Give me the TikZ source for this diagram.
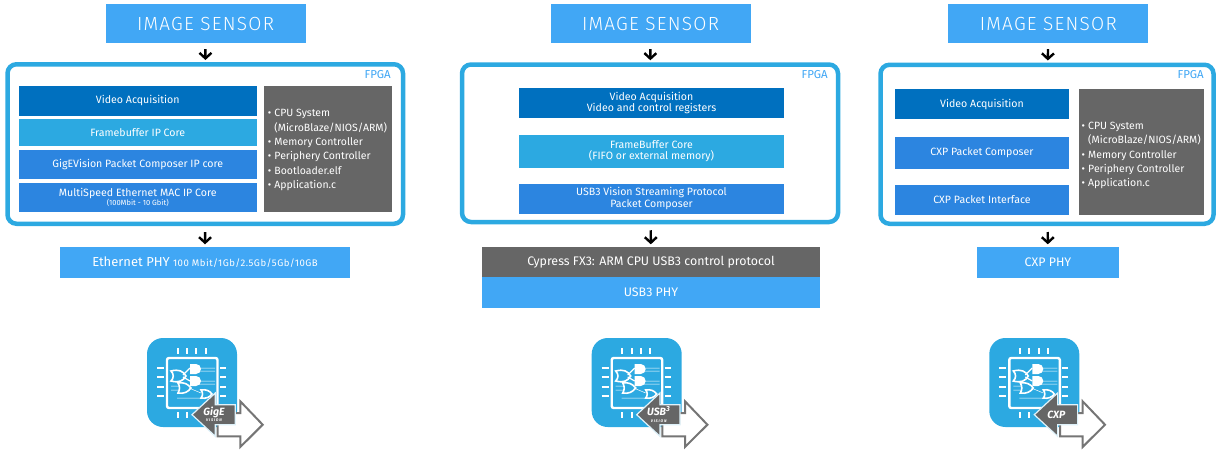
\documentclass[tikz,border=0pt]{standalone}
\usepackage{fontspec}
\setmainfont{Fira Sans}
\newfontfamily\sensorfont[LetterSpace=6.5]{Fira Sans Light}
\usetikzlibrary{arrows.meta}
\definecolor{skyblue}{HTML}{41A7F5}
\definecolor{frameblue}{HTML}{2CA9E1}
\definecolor{deepblue}{HTML}{0070BF}
\definecolor{midblue}{HTML}{2C85E0}
\definecolor{slate}{HTML}{666666}
\tikzstyle{std} = [rectangle, inner sep=0pt, text=white, align=center, font=\fontsize{10.6}{11.5}\selectfont]
\tikzstyle{sensor} = [std, fill=skyblue, minimum width=200pt, minimum height=39pt, font=\sensorfont\fontsize{19}{20}\selectfont]
\tikzstyle{phy} = [std, fill=skyblue, minimum height=31pt, font=\fontsize{12.4}{14}\selectfont]
\tikzstyle{fpga} = [rectangle, draw=frameblue, line width=4.5pt, fill=white, rounded corners=9pt, inner sep=0pt]
\tikzstyle{tag} = [inner sep=0pt, text=skyblue, anchor=east, font=\fontsize{11.5}{12}\selectfont]
\tikzstyle{video} = [std, fill=deepblue]
\tikzstyle{buffer} = [std, fill=frameblue]
\tikzstyle{packet} = [std, fill=midblue]
\tikzstyle{cpu} = [std, fill=slate, align=left, font=\fontsize{10.5}{14.4}\selectfont]
\tikzstyle{arrow} = [-{Straight Barb[length=5.5pt,width=12pt]}, line width=2.4pt, black, shorten <=6pt, shorten >=2pt]
\newcommand{\bul}{\makebox[6.5pt][l]{•}}
\tikzset{
  pics/chipicon/.style={code={
    \fill[frameblue] (0,0) [rounded corners=16pt] rectangle (90,89);
    \draw[white, line width=2.4pt, rounded corners=2pt] (20,20) rectangle (70.5,70);
    \foreach \p in {30.7,40,49.3,58.7} {
      \draw[white, line width=2pt] (\p,10) -- (\p,16);
      \draw[white, line width=2pt] (\p,74) -- (\p,80);
    }
    \foreach \p in {30,39,49,58} {
      \draw[white, line width=2pt] (10,\p) -- (17,\p);
      \draw[white, line width=2pt] (73,\p) -- (79,\p);
    }
    % gates
    \draw[white, line width=.5pt] (52,30) -- (68,30) (52,33) -- (68,33) (52,43) -- (68,43) (52,46) -- (68,46) (24,48) -- (32,48) (24,52) -- (32,52) (42,50) -- (54,55) (30,60) -- (54,60);
    \draw[white, line width=1.2pt] (36,37) -- (43,30) (36,39) -- (43,43);
    \draw[white, line width=1.6pt] (24,33) .. controls (32,31) and (36,33) .. (39,38) .. controls (36,43) and (32,45) .. (24,43) .. controls (27,40) and (27,36) .. (24,33) -- cycle;
    \fill[white] (43,26) -- (49,26) arc (-90:90:5) -- (43,36) -- cycle;
    \fill[white] (43,38) -- (49,38) arc (-90:90:5) -- (43,48) -- cycle;
    \draw[white, line width=1.6pt] (31,45) .. controls (37,44) and (41,46) .. (44,50) .. controls (41,54) and (37,56) .. (31,55) .. controls (33,52) and (33,48) .. (31,45) -- cycle;
    \draw[white, line width=1.6pt] (54,52) .. controls (59,51) and (63,53) .. (65,56) .. controls (63,59) and (59,61) .. (54,60) .. controls (56,58) and (56,54) .. (54,52) -- cycle;
    % arrows
    \draw[slate!90, fill=white, line width=2pt, miter limit=10] (70.7,75) -- (93.3,75) -- (93.3,63.3) -- (115.7,86.7) -- (93.3,109) -- (93.3,98.3) -- (70.7,98.3) -- cycle;
    \draw[white!85!frameblue, fill=slate, line width=1.2pt] (45,76.7) -- (68.3,55) -- (68.3,66.7) -- (88.3,66.7) -- (88.3,86.7) -- (68.3,86.7) -- (68.3,98.3) -- cycle;
    \node (logo) [inner sep=0pt, text=white, align=center, font=\bfseries\itshape\fontsize{10.5}{7}\selectfont] at (67,76.5) {#1};
  }}
}
\newcommand{\vis}{\\[-.5pt]{\fontsize{3.8}{3.8}\selectfont V I S I O N}}

\begin{document}
\begin{tikzpicture}[x=1pt, y=-1pt]
    \useasboundingbox (0,0) rectangle (1216,450);

    % GigE
    \node (sensorA) [sensor] at (205.5,23.5) {IMAGE SENSOR};
    \node (fpgaA)   [fpga, minimum width=395.5pt, minimum height=159.5pt] at (205.25,144) {};
    \node (tagA)    [tag] at (391,75) {FPGA};
    \node (videoA)  [video, minimum width=238.5pt, minimum height=30.5pt] at (137.75,100.75) {Video Acquisition};
    \node (bufferA) [buffer, minimum width=238.5pt, minimum height=27.5pt] at (137.75,132.25) {Framebuffer IP Core};
    \node (composeA) [packet, minimum width=238.5pt, minimum height=29pt] at (137.75,164.5) {GigEVision Packet Composer IP core};
    \node (macA)    [packet, minimum width=238.5pt, minimum height=29.5pt] at (137.75,197.25)
      {MultiSpeed Ethernet MAC IP Core\\[-2.5pt]{\fontsize{7.5}{8}\selectfont (100Mbit - 10 Gbit)}};
    \node (cpuA)    [cpu, minimum width=128pt, minimum height=126.5pt] at (327.5,148.75)
      {\rule{0pt}{10pt}\bul CPU System\\\hspace*{6.5pt}(MicroBlaze/NIOS/ARM)\\\bul Memory Controller\\\bul Periphery Controller\\\bul Bootloader.elf\\\bul Application.c};
    \node (phyA)    [phy, minimum width=290pt] at (205,262)
      {{\fontsize{13}{14}\selectfont Ethernet PHY} {\fontsize{9.6}{10}\selectfont\addfontfeature{LetterSpace=5} 100 Mbit/1Gb/2.5Gb/5Gb/10GB}};

    % USB3
    \node (sensorB) [sensor] at (650.5,23.5) {IMAGE SENSOR};
    \node (fpgaB)   [fpga, minimum width=376pt, minimum height=157.5pt] at (650,143.25) {};
    \node (tagB)    [tag] at (828,75) {FPGA};
    \node (videoB)  [video, minimum width=265pt, minimum height=30pt] at (651.5,103) {Video Acquisition\\Video and control registers};
    \node (bufferB) [buffer, minimum width=265pt, minimum height=32.5pt] at (651.5,151.25) {FrameBuffer Core\\(FIFO or external memory)};
    \node (composeB) [packet, minimum width=265pt, minimum height=30pt] at (651.5,198.5) {USB3 Vision Streaming Protocol\\Packet Composer};
    \node (fxB)     [phy, fill=slate, minimum width=338pt] at (651,262) {Cypress FX3: ARM CPU USB3 control protocol};
    \node (phyB)    [phy, minimum width=338pt] at (651,292.5) {USB3 PHY};

    % CXP
    \node (sensorC) [sensor] at (1048.25,23.5) {IMAGE SENSOR};
    \node (fpgaC)   [fpga, minimum width=333pt, minimum height=159pt] at (1047,144.25) {};
    \node (tagC)    [tag] at (1204,75) {FPGA};
    \node (videoC)  [video, minimum width=174pt, minimum height=30pt] at (982,104) {Video Acquisition};
    \node (composeC) [packet, minimum width=174pt, minimum height=32.5pt] at (982,152.75) {CXP Packet Composer};
    \node (ifaceC)  [packet, minimum width=174pt, minimum height=30pt] at (982,199.5) {CXP Packet Interface};
    \node (cpuC)    [cpu, minimum width=125.5pt, minimum height=125.5pt] at (1141.25,151.75)
      {\rule{0pt}{15pt}\bul CPU System\\\hspace*{6.5pt}(MicroBlaze/NIOS/ARM)\\\bul Memory Controller\\\bul Periphery Controller\\\bul Application.c};
    \node (phyC)    [phy, minimum width=142pt] at (1048,262) {CXP PHY};

    \draw [arrow] (sensorA) -- (fpgaA);
    \draw [arrow] (sensorB) -- (fpgaB);
    \draw [arrow] (sensorC) -- (fpgaC);
    \draw [arrow] (fpgaA)   -- (phyA);
    \draw [arrow] (fpgaB)   -- (fxB);
    \draw [arrow] (fpgaC)   -- (phyC);

    \pic at (147,338) {chipicon={GigE\vis}};
    \pic at (591.7,338) {chipicon={USB\textsuperscript{3}\vis}};
    \pic at (989.3,338) {chipicon={CXP}};
  \end{tikzpicture}
\end{document}
